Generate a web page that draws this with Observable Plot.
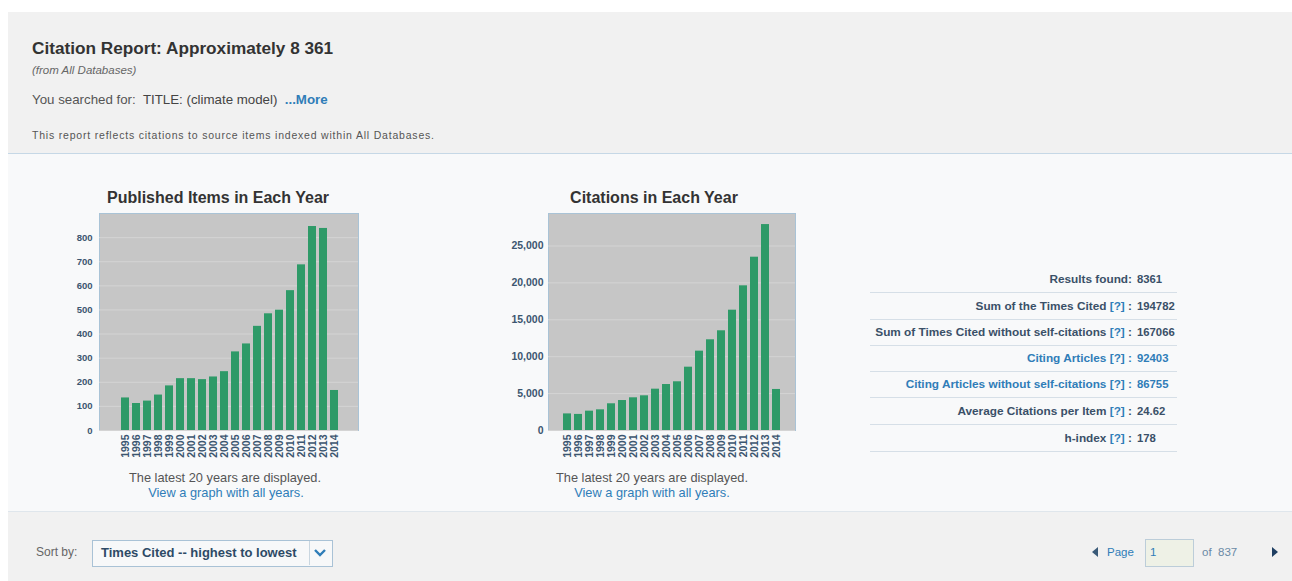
<!DOCTYPE html>
<html>
<head>
<meta charset="utf-8">
<script src="https://cdn.jsdelivr.net/npm/d3@7"></script>
<script src="https://cdn.jsdelivr.net/npm/@observablehq/plot@0.6"></script>
<style>
  html, body { margin: 0; padding: 0; background: #ffffff; }
  body { width: 1292px; height: 581px; position: relative; overflow: hidden; font-family: "Liberation Sans", Arial, sans-serif; }
  .abs { position: absolute; white-space: nowrap; }
  .link { color: #2f7db8; }
</style>
</head>
<body>
<div class="abs" style="left:8px;top:12px;width:1284px;height:141px;background:#f1f1f1;border-bottom:1px solid #c6d8e6;"></div>
<div class="abs" style="left:8px;top:154px;width:1284px;height:357px;background:#f8f9fa;"></div>
<div class="abs" style="left:8px;top:511px;width:1284px;height:70px;background:#f1f1f1;border-top:1px solid #dfe6ec;"></div>

<div class="abs" style="left:32px;top:37px;font-size:17.2px;line-height:22px;font-weight:bold;color:#333;">Citation Report: Approximately 8 361</div>
<div class="abs" style="left:32px;top:63px;font-size:11.5px;line-height:15px;font-style:italic;color:#666;">(from All Databases)</div>
<div class="abs" style="left:32px;top:92px;font-size:13.3px;line-height:16px;color:#555;">You searched for:&nbsp; <span style="color:#444;">TITLE: (climate model)</span>&nbsp; <b class="link">...More</b></div>
<div class="abs" style="left:32px;top:128px;font-size:10.5px;line-height:14px;letter-spacing:0.8px;color:#555;">This report reflects citations to source items indexed within All Databases.</div>

<div class="abs" style="left:60px;top:188px;width:316px;text-align:center;font-size:16px;line-height:20px;font-weight:bold;color:#333;">Published Items in Each Year</div>
<div class="abs" style="left:494px;top:188px;width:320px;text-align:center;font-size:16px;line-height:20px;font-weight:bold;color:#333;">Citations in Each Year</div>

<div id="chart1" class="abs" style="left:60px;top:205px;"></div>
<div id="chart2" class="abs" style="left:500px;top:205px;"></div>

<div class="abs" style="left:75px;top:470px;width:300px;text-align:center;font-size:12.8px;line-height:15px;color:#555;">The latest 20 years are displayed.</div>
<div class="abs" style="left:76px;top:485px;width:300px;text-align:center;font-size:12.8px;line-height:15px;" ><span class="link">View a graph with all years.</span></div>
<div class="abs" style="left:502px;top:470px;width:300px;text-align:center;font-size:12.8px;line-height:15px;color:#555;">The latest 20 years are displayed.</div>
<div class="abs" style="left:502px;top:485px;width:300px;text-align:center;font-size:12.8px;line-height:15px;"><span class="link">View a graph with all years.</span></div>

<div id="stats"></div>

<div class="abs" style="left:36px;top:545px;font-size:12px;line-height:15px;color:#666;">Sort by:</div>
<div class="abs" style="left:92px;top:540px;width:239px;height:25px;border:1px solid #a9c2d6;background:#f7f8f9;"></div>
<div class="abs" style="left:101px;top:545px;font-size:13px;line-height:16px;font-weight:bold;color:#2d4a66;">Times Cited -- highest to lowest</div>
<div class="abs" style="left:309px;top:541px;width:1px;height:24px;background:#c9d6e0;"></div>
<svg class="abs" style="left:313px;top:547px;" width="14" height="12"><path d="M2,3 L7,8 L12,3" fill="none" stroke="#2f7db8" stroke-width="2.4"/></svg>

<svg class="abs" style="left:1090px;top:546px;" width="10" height="12"><path d="M8,1 L2,6 L8,11 Z" fill="#3a5a78"/></svg>
<div class="abs" style="left:1107px;top:545px;font-size:11.5px;line-height:15px;color:#2f7db8;">Page</div>
<div class="abs" style="left:1145px;top:539px;width:47px;height:26px;border:1px solid #bccdd9;background:#eef1e6;"></div>
<div class="abs" style="left:1150px;top:545px;font-size:11.5px;line-height:15px;color:#2f7db8;">1</div>
<div class="abs" style="left:1202px;top:545px;font-size:11.5px;line-height:15px;color:#6a8aa6;">of</div>
<div class="abs" style="left:1218px;top:545px;font-size:11.5px;line-height:15px;color:#6a8aa6;">837</div>
<svg class="abs" style="left:1270px;top:546px;" width="10" height="12"><path d="M2,1 L8,6 L2,11 Z" fill="#1f3f62"/></svg>

<script>
const years = ["1995","1996","1997","1998","1999","2000","2001","2002","2003","2004","2005","2006","2007","2008","2009","2010","2011","2012","2013","2014"];
const publishedItems = [135,112,122,147,185,215,215,211,222,244,326,359,432,484,499,580,687,846,838,166];
const citations = [2250,2180,2620,2800,3620,4060,4430,4700,5600,6230,6600,8580,10750,12290,13510,16300,19600,23480,27900,5560];
const publishedTicks = [0,100,200,300,400,500,600,700,800];
const citationTicks = [0,5000,10000,15000,20000,25000];

const statLabels = ["Results found:", "Sum of the Times Cited [?] :", "Sum of Times Cited without self-citations [?] :", "Citing Articles [?] :", "Citing Articles without self-citations [?] :", "Average Citations per Item [?] :", "h-index [?] :"];
const statValues = ["8361", "194782", "167066", "92403", "86755", "24.62", "178"];
const statLinks = [false, false, false, true, true, false, false];

const barColor = "#2e9a68";
const plotBg = "#c6c6c6";
const gridColor = "#d4d4d4";
const axisColor = "#3c5670";

function makeChart(values, ticks, yMax, opts) {
  const data = years.map((y, i) => ({year: y, value: values[i]}));
  return Plot.plot({
    width: opts.width,
    height: 260,
    marginLeft: opts.marginLeft,
    marginRight: 12,
    marginTop: 8,
    marginBottom: 35,
    style: {fontFamily: "'Liberation Sans', Arial, sans-serif", fontSize: "10px", fontWeight: "bold", color: axisColor, background: "transparent", overflow: "visible"},
    x: {type: "band", domain: years, padding: opts.padding, insetLeft: opts.insetLeft, insetRight: opts.insetRight, label: null},
    y: {domain: [0, yMax], label: null},
    marks: [
      Plot.frame({fill: plotBg, stroke: "#a9c3d6", strokeWidth: 1}),
      Plot.gridY(ticks, {stroke: gridColor, strokeOpacity: 1, strokeWidth: 1}),
      Plot.barY(data, {x: "year", y: "value", fill: barColor}),
      Plot.axisY(ticks, {tickSize: 0, tickPadding: opts.tickPad, tickFormat: opts.fmt, fill: axisColor, fontSize: opts.yFont}),
      Plot.axisX({tickSize: 0, tickPadding: 4, tickRotate: -90, fill: axisColor, fontSize: 10.5})
    ]
  });
}

document.getElementById("chart1").appendChild(
  makeChart(publishedItems, publishedTicks, 900, {width: 310, marginLeft: 39, padding: 0.24, insetLeft: 10, insetRight: 8.6, tickPad: 7, yFont: 9.5, fmt: d3.format("d")})
);
document.getElementById("chart2").appendChild(
  makeChart(citations, citationTicks, 29400, {width: 307, marginLeft: 48, padding: 0.3, insetLeft: 10.5, insetRight: 10.8, tickPad: 5, yFont: 10.5, fmt: d3.format(",")})
);

const rowCenters = [279, 306, 332, 358, 384, 411, 438];
const stats = document.getElementById("stats");
statLabels.forEach((lab, i) => {
  const c = rowCenters[i];
  const labHtml = lab.replace("[?]", '<span class="link">[?]</span>');
  const col = statLinks[i] ? "#2f7db8" : "#3a5068";
  stats.insertAdjacentHTML("beforeend",
    `<div class="abs" style="right:${1292-1132}px;top:${c-8}px;font-size:11.8px;line-height:16px;font-weight:bold;color:${col};text-align:right;">${labHtml}</div>` +
    `<div class="abs" style="left:1137px;top:${c-8}px;font-size:11.3px;line-height:16px;font-weight:bold;color:${col};">${statValues[i]}</div>` +
    `<div class="abs" style="left:870px;top:${c+13}px;width:307px;height:1px;background:#d6dfe7;"></div>`);
});
</script>
</body>
</html>
